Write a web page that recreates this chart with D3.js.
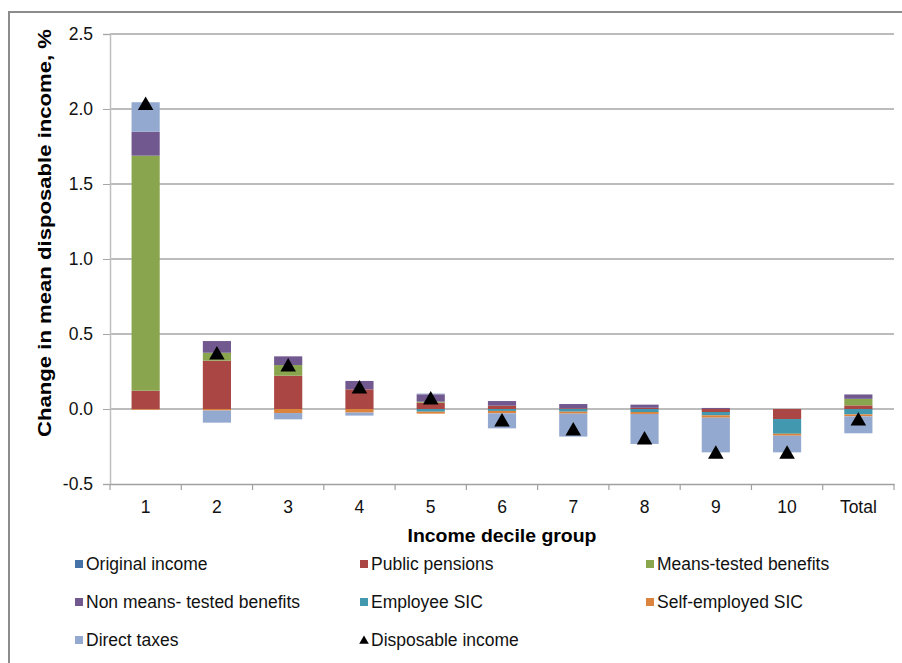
<!DOCTYPE html>
<html>
<head>
<meta charset="utf-8">
<script src="https://cdn.jsdelivr.net/npm/d3@7"></script>
<style>
  html, body { margin: 0; padding: 0; background: #fff; }
  svg { display: block; font-family: "Liberation Sans", Arial, sans-serif; }
</style>
</head>
<body>
<svg id="chart" width="902" height="663"></svg>
<script>
// ---- Data ----
const categories = ["1","2","3","4","5","6","7","8","9","10","Total"];
const seriesNames = ["Original income","Public pensions","Means-tested benefits",
  "Non means- tested benefits","Employee SIC","Self-employed SIC","Direct taxes"];
const originalIncome   = [0, 0, 0, 0, 0, 0, 0, 0, 0, 0, 0];
const publicPensions   = [0.122, 0.322, 0.222, 0.131, 0.042, 0.022, 0.005, 0.008, -0.020, -0.067, 0.024];
const meansTested      = [1.567, 0.053, 0.071, 0.000, 0.007, 0.000, 0.000, 0.000, 0.000, 0.000, 0.044];
const nonMeansTested   = [0.160, 0.078, 0.058, 0.056, 0.049, 0.031, 0.028, 0.021, 0.007, 0.000, 0.029];
const employeeSIC      = [0.000, 0.000, 0.000, 0.000, -0.018, -0.013, -0.018, -0.020, -0.022, -0.098, -0.036];
const selfEmployedSIC  = [-0.005, -0.010, -0.027, -0.024, -0.013, -0.016, -0.013, -0.013, -0.016, -0.013, -0.013];
const directTaxes      = [0.196, -0.081, -0.042, -0.020, 0.005, -0.100, -0.153, -0.200, -0.231, -0.111, -0.113];
const disposableIncome = [2.03, 0.367, 0.287, 0.14, 0.067, -0.08, -0.14, -0.20, -0.295, -0.295, -0.073];
const yTicks = [-0.5, 0, 0.5, 1.0, 1.5, 2.0, 2.5];
const colors = ["#4572A7","#AA4643","#89A54E","#71588F","#4198AF","#DB843D","#93A9CF"];

const seriesValues = [originalIncome, publicPensions, meansTested, nonMeansTested,
  employeeSIC, selfEmployedSIC, directTaxes];
const table = categories.map((c, i) => {
  const row = { cat: c };
  seriesNames.forEach((s, k) => row[s] = seriesValues[k][i]);
  return row;
});

// ---- Layout ----
const svg = d3.select("#chart");
const plot = { left: 110, right: 894, top: 34, bottom: 484 };

// frame
svg.append("path")
  .attr("d", "M9,663 L9,12 L902,12")
  .attr("fill", "none").attr("stroke", "#8c8c8c").attr("stroke-width", 2);

const x = d3.scaleBand().domain(categories).range([plot.left, plot.right]).paddingInner(0).paddingOuter(0);
const y = d3.scaleLinear().domain([-0.5, 2.5]).range([plot.bottom, plot.top]);
const barW = x.bandwidth() * 0.395;

// gridlines
svg.append("g").selectAll("line")
  .data(yTicks.filter(t => t > -0.5))
  .join("line")
  .attr("x1", plot.left).attr("x2", plot.right)
  .attr("y1", d => y(d)).attr("y2", d => y(d))
  .attr("stroke", "#a6a6a6").attr("stroke-width", 1.3);

// y axis
const fmt = d3.format(".1f");
const yAxis = svg.append("g").attr("transform", `translate(${plot.left},0)`)
  .call(d3.axisLeft(y).tickValues(yTicks).tickFormat(d => fmt(d).replace("\u2212", "-")).tickSize(7).tickPadding(10));
yAxis.select(".domain").attr("stroke", "#bfbfbf").attr("stroke-width", 1.5);
yAxis.selectAll(".tick line").attr("stroke", "#a6a6a6");
yAxis.selectAll("text").attr("font-size", 17.5).attr("fill", "#111")
  .attr("font-family", "Liberation Sans, Arial, sans-serif");

// stacked bars
const stack = d3.stack().keys(seriesNames).offset(d3.stackOffsetDiverging);
const stacked = stack(table);
svg.append("g").selectAll("g")
  .data(stacked)
  .join("g")
  .attr("fill", (d, i) => colors[i])
  .selectAll("rect")
  .data(d => d)
  .join("rect")
  .attr("x", d => x(d.data.cat) + (x.bandwidth() - barW) / 2)
  .attr("width", barW)
  .attr("y", d => y(Math.max(d[0], d[1])))
  .attr("height", d => Math.abs(y(d[0]) - y(d[1])));

// x axis (at bottom, -0.5)
const xAxis = svg.append("g").attr("transform", `translate(0,${plot.bottom})`)
  .call(d3.axisBottom(x).tickSize(0).tickPadding(17));
xAxis.select(".domain").attr("stroke", "#a0a0a0").attr("stroke-width", 1.5);
xAxis.selectAll("text").attr("font-size", 17.5).attr("fill", "#111")
  .attr("font-family", "Liberation Sans, Arial, sans-serif");
// tick marks between categories
const boundaries = categories.map(c => x(c)).concat([plot.right]);
svg.append("g").selectAll("line")
  .data(boundaries)
  .join("line")
  .attr("x1", d => d).attr("x2", d => d)
  .attr("y1", plot.bottom).attr("y2", plot.bottom + 6)
  .attr("stroke", "#a0a0a0").attr("stroke-width", 1.2);

// disposable income markers
const tri = d3.symbol().type(d3.symbolTriangle).size(105);
svg.append("g").selectAll("path")
  .data(disposableIncome)
  .join("path")
  .attr("d", tri)
  .attr("transform", (d, i) => `translate(${x(categories[i]) + x.bandwidth() / 2},${y(d) + 1})`)
  .attr("fill", "#000");

// axis titles
svg.append("text")
  .attr("x", 502).attr("y", 542)
  .attr("text-anchor", "middle")
  .attr("font-size", 18).attr("font-weight", "bold")
  .attr("textLength", 189).attr("lengthAdjust", "spacingAndGlyphs")
  .text("Income decile group");
svg.append("text")
  .attr("transform", "translate(51,233) rotate(-90)")
  .attr("text-anchor", "middle")
  .attr("font-size", 18).attr("font-weight", "bold")
  .attr("textLength", 408).attr("lengthAdjust", "spacingAndGlyphs")
  .text("Change in mean disposable income, %");

// legend
const legendItems = seriesNames.map((s, i) => ({ name: s, color: colors[i], type: "rect" }))
  .concat([{ name: "Disposable income", color: "#000", type: "tri" }]);
const colX = [75, 360, 646];
const rowY = [564, 602, 640];
const lg = svg.append("g").selectAll("g")
  .data(legendItems)
  .join("g")
  .attr("transform", (d, i) => `translate(${colX[i % 3]},${rowY[Math.floor(i / 3)]})`);
lg.filter(d => d.type === "rect").append("rect")
  .attr("x", 0).attr("y", -4).attr("width", 8).attr("height", 8)
  .attr("fill", d => d.color);
lg.filter(d => d.type === "tri").append("path")
  .attr("d", d3.symbol().type(d3.symbolTriangle).size(40))
  .attr("transform", "translate(4,1)")
  .attr("fill", "#000");
lg.append("text")
  .attr("x", 11).attr("y", 6)
  .attr("font-size", 17.5).attr("fill", "#111")
  .text(d => d.name);
</script>
</body>
</html>
